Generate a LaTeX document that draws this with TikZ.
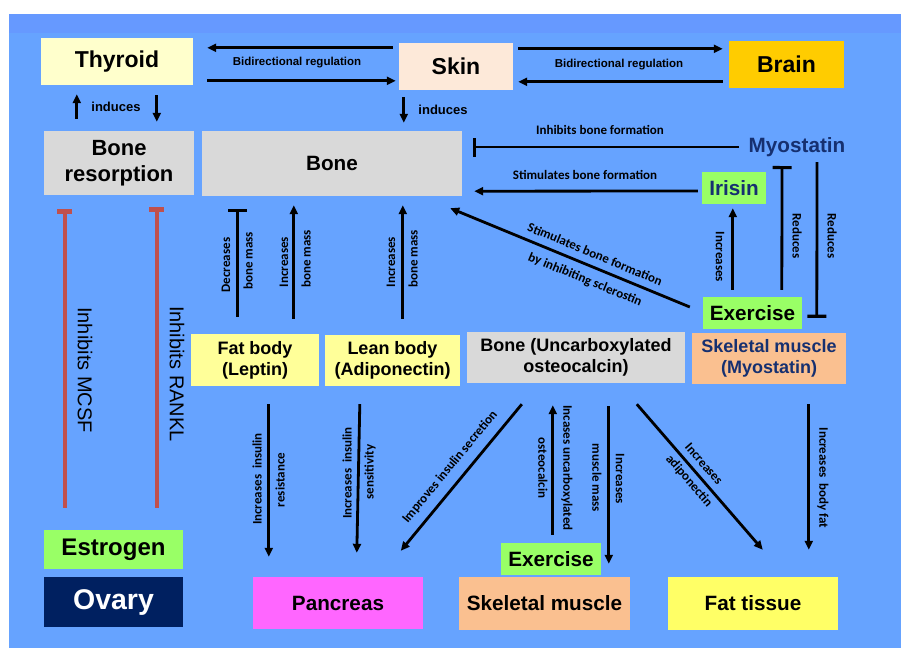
\documentclass[tikz,border=0pt]{standalone}
\usepackage{fontspec}
\setmainfont{Liberation Sans}
\newfontfamily\calfont{Carlito}
\usetikzlibrary{arrows.meta,calc}
\definecolor{bandblue}{HTML}{6699FF}
\definecolor{mainblue}{HTML}{66A3FF}
\definecolor{lyellow}{HTML}{FFFFCC}
\definecolor{peach}{HTML}{FDE9D9}
\definecolor{goldb}{HTML}{FFCC00}
\definecolor{grayb}{HTML}{D9D9D9}
\definecolor{lgreen}{HTML}{99FF66}
\definecolor{orangeb}{HTML}{FAC090}
\definecolor{yeltwo}{HTML}{FFFF99}
\definecolor{yelthree}{HTML}{FFFF66}
\definecolor{navyb}{HTML}{002060}
\definecolor{magentab}{HTML}{FF66FF}
\definecolor{navytxt}{RGB}{22,48,112}
\definecolor{redline}{HTML}{C0504D}
\begin{document}
\begin{tikzpicture}[x=1pt,y=-1pt,
  box/.style={inner sep=0pt, align=center, text=black},
  fxxiv/.style={font=\bfseries\fontsize{24}{27}\selectfont},
  fxxiii/.style={font=\bfseries\fontsize{23}{26}\selectfont},
  fxxii/.style={font=\bfseries\fontsize{22}{25.5}\selectfont},
  fxxi/.style={font=\bfseries\fontsize{20.7}{24}\selectfont},
  fxviii/.style={font=\bfseries\fontsize{18}{21}\selectfont},
  lab/.style={inner sep=0pt, font=\bfseries\fontsize{11.5}{13}\selectfont},
  indlab/.style={inner sep=0pt, font=\bfseries\fontsize{13}{15}\selectfont},
  clab/.style={inner sep=0pt, font=\calfont\bfseries\fontsize{13}{15}\selectfont},
  vlab/.style={inner sep=0pt, font=\calfont\bfseries\fontsize{13}{15}\selectfont},
  biglab/.style={inner sep=0pt, font=\fontsize{20}{23}\selectfont},
  arr/.style={line width=2.8pt, -{Triangle[length=9pt,width=8pt]}},
  inh/.style={line width=2.8pt, -{Bar[width=19pt,line width=3.2pt]}},
  rinh/.style={line width=3.5pt, draw=redline, -{Bar[width=15pt,line width=4.5pt]}}
]
\useasboundingbox (0,0) rectangle (901,648);
\fill[white] (0,0) rectangle (901,648);
\fill[bandblue] (9,14) rectangle (901,33);
\fill[mainblue] (9,33) rectangle (901,648);

% boxes
\node[box,fxxiii,fill=lyellow,minimum width=152pt,minimum height=47pt] (thyroid) at (117,61.5) {Thyroid};
\node[box,fxxiii,fill=peach,minimum width=114pt,minimum height=47pt] (skin) at (456,66.5) {Skin};
\node[box,fxxiii,fill=goldb,minimum width=115pt,minimum height=47pt] (brain) at (786.5,64.5) {Brain};
\node[box,fxxii,fill=grayb,minimum width=150pt,minimum height=64pt] (bres) at (119,163) {Bone\\resorption};
\node[box,fxxi,fill=grayb,minimum width=260pt,minimum height=65pt] (bone) at (332,163.5) {Bone};
\node[box,fxxi,text=navytxt] (myo) at (797,147) {Myostatin};
\node[box,fxxi,text=navytxt,fill=lgreen,minimum width=64pt,minimum height=32pt] (irisin) at (734,188) {Irisin};
\node[box,fxxi,fill=lgreen,minimum width=99pt,minimum height=32pt] (exerA) at (752.5,313) {Exercise};
\node[box,fxviii,text=navytxt,fill=orangeb,minimum width=154pt,minimum height=51pt] (skmA) at (769,358.5) {Skeletal muscle\\(Myostatin)};
\node[box,fxviii,fill=grayb,minimum width=218pt,minimum height=51pt] (boneU) at (576,357.5) {Bone (Uncarboxylated\\osteocalcin)};
\node[box,fxviii,fill=yeltwo,minimum width=128pt,minimum height=52pt] (fatbody) at (255,360) {Fat body\\(Leptin)};
\node[box,fxviii,fill=yeltwo,minimum width=135pt,minimum height=51pt] (leanbody) at (392.5,360.5) {Lean body\\(Adiponectin)};
\node[box,fxxiv,fill=lgreen,minimum width=139pt,minimum height=39pt] (estrogen) at (113.5,549.5) {Estrogen};
\node[box,font=\bfseries\fontsize{28.5}{32}\selectfont,text=white,fill=navyb,minimum width=139pt,minimum height=50pt] (ovary) at (113.5,602) {Ovary};
\node[box,fxxi,fill=magentab,minimum width=170pt,minimum height=52pt] (pancreas) at (338,603) {Pancreas};
\node[box,fxxi,fill=lgreen,minimum width=100pt,minimum height=32pt] (exerB) at (551,559) {Exercise};
\node[box,fxxi,fill=orangeb,minimum width=171pt,minimum height=53pt] (skmB) at (544.5,603.5) {Skeletal muscle};
\node[box,fxxi,fill=yelthree,minimum width=170pt,minimum height=53pt] (fattissue) at (753,603.5) {Fat tissue};

% connectors
\draw[arr] ($(skin.north west)+(-6,5)$) -- ($(thyroid.north east)+(14,10)$);
\draw[arr] ($(thyroid.north east)+(14,43)$) -- ($(skin.north west)+(-3,38)$);
\draw[arr] ($(skin.north east)+(5,6)$) -- ($(brain.north west)+(-6,8)$);
\draw[arr] ($(brain.north west)+(-6,41)$) -- ($(skin.north east)+(5,39)$);
\draw[arr] ($(bres.north west)+(33,-12)$) -- ($(thyroid.south west)+(36,9)$);
\draw[arr] ($(thyroid.south west)+(116,10)$) -- ($(bres.north west)+(113,-9)$);
\draw[arr] ($(skin.south west)+(5,7)$) -- ($(bone.north west)+(202,-8)$);
\draw[inh] ($(myo.west)+(-9.5,0)$) -- ($(bone.east)+(11,-16.5)$);
\draw[arr] ($(irisin.west)+(-4,3)$) -- ($(bone.south east)+(12,-5)$);
\draw[arr] ($(exerA.west)+(-13,-6)$) -- ($(bone.south east)+(-12,12)$);
\draw[arr] ($(exerA.north west)+(30,-7)$) -- ($(irisin.south west)+(31,4)$);
\draw[inh] ($(exerA.north west)+(79,-7)$) -- ($(myo.center)+(-15,19)$);
\draw[inh] ($(myo.center)+(20,15)$) -- ($(skmA.north west)+(125,-15)$);
\draw[inh] ($(fatbody.north west)+(47,-17)$) -- ($(bone.south west)+(36,13)$);
\draw[arr] ($(fatbody.north west)+(103,-15)$) -- ($(bone.south west)+(92,9)$);
\draw[arr] ($(leanbody.north west)+(78,-16)$) -- ($(bone.south west)+(201,9)$);
\draw[rinh] ($(estrogen.north west)+(21,-22)$) -- ($(bres.south west)+(21,14)$);
\draw[rinh] ($(estrogen.north west)+(113,-22)$) -- ($(bres.south west)+(113,12)$);
\draw[arr] ($(fatbody.south west)+(78,18)$) -- ($(pancreas.north west)+(16,-20)$);
\draw[arr] ($(leanbody.south west)+(35,18)$) -- ($(pancreas.north west)+(104,-24)$);
\draw[arr] ($(boneU.south west)+(55,21)$) -- ($(pancreas.north west)+(148,-26)$);
\draw[arr] ($(exerB.north west)+(52,-8)$) -- ($(boneU.south west)+(86,22)$);
\draw[arr] ($(boneU.south west)+(142,23)$) -- ($(skmB.north west)+(150,-13)$);
\draw[arr] ($(boneU.south west)+(170,21)$) -- ($(fattissue.north west)+(95,-27)$);
\draw[arr] ($(skmA.south west)+(117,20)$) -- ($(fattissue.north west)+(141,-27)$);

% labels
\node[lab] (lbA) at (297,63) {Bidirectional regulation};
\node[lab] (lbB) at (619,65) {Bidirectional regulation};
\node[indlab] (lind1) at (116,107) {induces};
\node[indlab] (lind2) at (443,110) {induces};
\node[clab] (linh) at (600,130) {Inhibits bone formation};
\node[clab] (lstim) at (585,175) {Stimulates bone formation};
\node[clab,rotate=-22.4] (lscl1) at (595,254) {Stimulates bone formation};
\node[clab,rotate=-22.4] (lscl2) at (585,280) {by inhibiting sclerostin};
\node[vlab,rotate=-90] (lincI) at (720,257) {Increases};
\node[vlab,rotate=-90] (lredA) at (797,236) {Reduces};
\node[vlab,rotate=-90] (lredB) at (832,236) {Reduces};
\node[vlab,rotate=90] (ldecA) at (226,265) {Decreases};
\node[vlab,rotate=90] (ldecB) at (248,261) {bone mass};
\node[vlab,rotate=90] (lincA) at (284,262) {Increases};
\node[vlab,rotate=90] (lincB) at (306,259) {bone mass};
\node[vlab,rotate=90] (lincC) at (391,262) {Increases};
\node[vlab,rotate=90] (lincD) at (413,259) {bone mass};
\node[biglab,rotate=-90] (lmcsf) at (85,370) {Inhibits MCSF};
\node[biglab,rotate=-90] (lrankl) at (177,374) {Inhibits RANKL};
\node[vlab,rotate=90] (lirA) at (257,479) {Increases\ \ insulin};
\node[vlab,rotate=90] (lirB) at (280,480) {resistance};
\node[vlab,rotate=90] (lisA) at (347,473) {Increases\ \ insulin};
\node[vlab,rotate=90] (lisB) at (370,472) {sensitivity};
\node[vlab,rotate=50.5] (limp) at (450,467) {Improves insulin secretion};
\node[vlab,rotate=-90] (lucA) at (567,468) {Incases uncarboxylated};
\node[vlab,rotate=-90] (lucB) at (543,468) {osteocalcin};
\node[vlab,rotate=-90] (lmmA) at (620,479) {Increases};
\node[vlab,rotate=-90] (lmmB) at (597,478) {muscle mass};
\node[vlab,rotate=-49.2] (ladA) at (704,464) {Increases};
\node[vlab,rotate=-49.2] (ladB) at (689,481) {adiponectin};
\node[vlab,rotate=-90] (lbf) at (823,478) {Increases\ \ body fat};
\end{tikzpicture}
\end{document}
